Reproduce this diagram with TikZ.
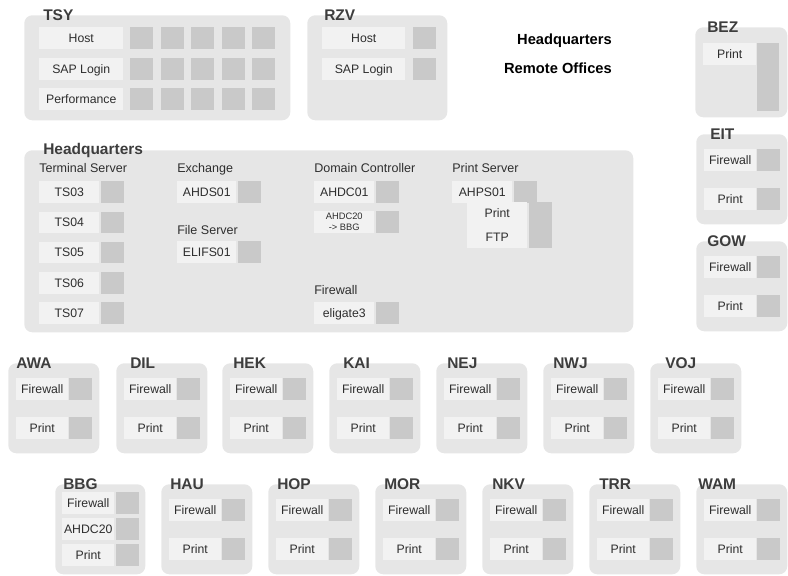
\documentclass[tikz,border=0pt]{standalone}
\usepackage{fontspec}
\setmainfont{Liberation Sans}
\usepackage{xcolor}
\usepackage{tikz}
\usetikzlibrary{positioning}
\definecolor{tinta}{HTML}{2E2E2E}
\definecolor{grisTitulo}{HTML}{3D3D3D}
\definecolor{grisPanel}{HTML}{E6E6E6}
\definecolor{grisCaja}{HTML}{F2F2F2}
\definecolor{grisCelda}{HTML}{C9C9C9}
\newcommand{\pxu}{0.75pt}

\begin{document}
\begin{tikzpicture}[x=0.75pt,y=-0.75pt,
    panel/.style={fill=grisPanel,rounded corners=6pt,anchor=north west,inner sep=0pt},
    caja/.style={fill=grisCaja,anchor=north west,inner sep=0pt,minimum height=22*\pxu,
                 text height=6.6pt,text depth=0pt,font=\fontsize{9.2}{11}\selectfont\color{tinta}},
    celda/.style={fill=grisCelda,anchor=north west,inner sep=0pt,
                  minimum width=23*\pxu,minimum height=22*\pxu},
    titulo/.style={anchor=base west,inner sep=0pt,
                   font=\bfseries\fontsize{11.6}{13}\selectfont\color{grisTitulo}},
    cabecera/.style={anchor=base west,inner sep=0pt,font=\fontsize{9.4}{11}\selectfont\color{tinta}},
    leyenda/.style={anchor=base east,inner sep=0pt,font=\bfseries\fontsize{11}{13}\selectfont}]
  \useasboundingbox (0,0) rectangle (788,575);
  \node[panel,minimum width=266*\pxu,minimum height=105*\pxu] (tsy) at (24,15) {};
  \node[titulo] (tsy-t) at (43,20) {TSY};
  \foreach \r/\t [count=\i from 0] in {host/Host,sap/SAP Login,perf/Performance} {
    \node[caja,minimum width=84*\pxu] (tsy-\r) at (39,27+30.5*\i) {\t};
    \foreach \c in {0,...,4}
      \node[celda] (tsy-\r-\c) at (130+30.5*\c,27+30.5*\i) {};
  }
  \node[panel,minimum width=140*\pxu,minimum height=105*\pxu] (rzv) at (307,15) {};
  \node[titulo] (rzv-t) at (324,20) {RZV};
  \node[caja,minimum width=83*\pxu] (rzv-host) at (322,27) {Host};
  \node[celda] (rzv-host-c) at (413,27) {};
  \node[caja,minimum width=83*\pxu] (rzv-sap) at (322,58) {SAP Login};
  \node[celda] (rzv-sap-c) at (413,58) {};
  \node[leyenda] (ley-hq) at (612,44) {Headquarters};
  \node[leyenda] (ley-ro) at (612,73) {Remote Offices};
  \node[panel,minimum width=92*\pxu,minimum height=90*\pxu] (bez) at (695,27) {};
  \node[titulo] (bez-t) at (707,32.5) {BEZ};
  \node[caja,minimum width=53*\pxu] (bez-pr) at (703,43) {Print};
  \node[celda,minimum width=22*\pxu,minimum height=68*\pxu] (bez-c) at (757,43) {};
  \node[panel,minimum width=609*\pxu,minimum height=182*\pxu] (hq) at (24,150) {};
  \node[titulo] (hq-t) at (43,154) {Headquarters};
  \node[cabecera] (hq-ts) at (39,172.5) {Terminal Server};
  \foreach \t [count=\i from 0] in {TS03,TS04,TS05,TS06,TS07} {
    \node[caja,minimum width=60*\pxu,minimum height=21.5*\pxu] (hq-\t) at (39,181+30.25*\i) {\t};
    \node[celda,minimum height=21.5*\pxu,right=0.75pt of hq-\t] (hq-\t-c) {};
  }
  \node[cabecera] (hq-ex) at (177,172.5) {Exchange};
  \node[caja,minimum width=59*\pxu,minimum height=21.5*\pxu] (hq-ahds) at (177,181) {AHDS01};
  \node[celda,minimum height=21.5*\pxu,right=0.75pt of hq-ahds] (hq-ahds-c) {};
  \node[cabecera] (hq-fs) at (177,234.5) {File Server};
  \node[caja,minimum width=59*\pxu,minimum height=21.5*\pxu] (hq-elifs) at (177,241) {ELIFS01};
  \node[celda,minimum height=21.5*\pxu,right=0.75pt of hq-elifs] (hq-elifs-c) {};
  \node[cabecera] (hq-dc) at (314,172.5) {Domain Controller};
  \node[caja,minimum width=60*\pxu,minimum height=21.5*\pxu] (hq-ahdc) at (314,181) {AHDC01};
  \node[celda,minimum height=21.5*\pxu,right=0.75pt of hq-ahdc] (hq-ahdc-c) {};
  \node[caja,minimum width=60*\pxu,minimum height=21.5*\pxu,align=center,text height=,text depth=,
        font=\fontsize{7}{8.3}\selectfont\color{tinta}] (hq-ahdc20) at (314,211) {AHDC20\\-> BBG};
  \node[celda,minimum height=21.5*\pxu,right=0.75pt of hq-ahdc20] (hq-ahdc20-c) {};
  \node[cabecera] (hq-fw) at (314,294.5) {Firewall};
  \node[caja,minimum width=60*\pxu,minimum height=21.5*\pxu] (hq-gate) at (314,302) {eligate3};
  \node[celda,minimum height=21.5*\pxu,right=0.75pt of hq-gate] (hq-gate-c) {};
  \node[cabecera] (hq-ps) at (452,172.5) {Print Server};
  \node[caja,minimum width=60*\pxu,minimum height=21.5*\pxu] (hq-ahps) at (452,181) {AHPS01};
  \node[celda,minimum height=21.5*\pxu,right=0.75pt of hq-ahps] (hq-ahps-c) {};
  \node[caja,minimum width=60*\pxu,minimum height=46*\pxu,align=center,text height=,text depth=,
        font=\fontsize{9.2}{18}\selectfont\color{tinta}] (hq-srv) at (467,202) {Print\\FTP};
  \node[celda,minimum height=46*\pxu,right=0.75pt of hq-srv] (hq-srv-c) {};
  \foreach \n/\x/\y/\o in {EIT/696/134/14,GOW/696/241/11,
      AWA/8/363/8,DIL/116/363/14,HEK/222/363/11,KAI/329/363/14,NEJ/436/363/11,NWJ/543/363/10,VOJ/650/363/15,
      HAU/161/484/9,HOP/268/484/9,MOR/375/484/9,NKV/482/484/10,TRR/589/484/10,WAM/696/484/2} {
    \node[panel,minimum width=91*\pxu,minimum height=90*\pxu] (\n) at (\x,\y) {};
    \node[titulo] (\n-t) at (\x+\o,\y+5) {\n};
    \node[caja,minimum width=52*\pxu] (\n-fw) at (\x+8,\y+15) {Firewall};
    \node[celda] (\n-fw-c) at (\x+61,\y+15) {};
    \node[caja,minimum width=52*\pxu] (\n-pr) at (\x+8,\y+53.5) {Print};
    \node[celda] (\n-pr-c) at (\x+61,\y+53.5) {};
  }
  \node[panel,minimum width=90*\pxu,minimum height=90*\pxu] (bbg) at (55,484) {};
  \node[titulo] (bbg-t) at (63,489) {BBG};
  \foreach \r/\t/\v in {fw/Firewall/492,dc/AHDC20/518,pr/Print/543.5} {
    \node[caja,minimum width=52*\pxu] (bbg-\r) at (62,\v) {\t};
    \node[celda] (bbg-\r-c) at (116,\v) {};
  }
\end{tikzpicture}
\end{document}
